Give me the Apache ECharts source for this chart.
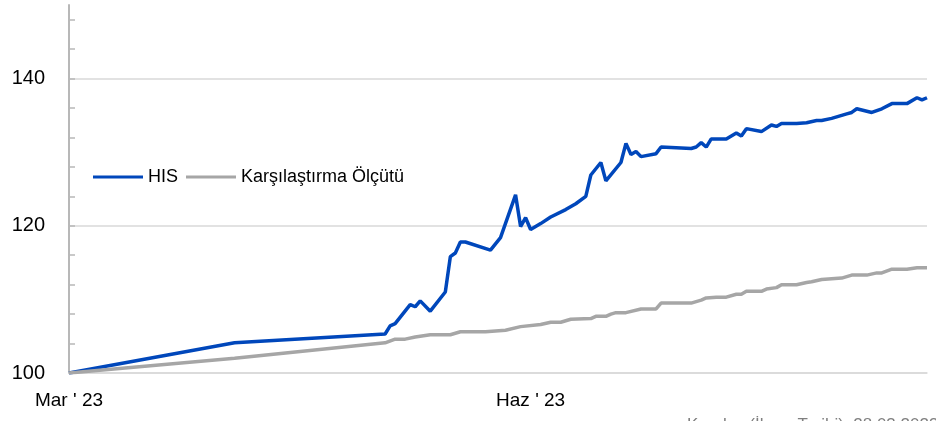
<!DOCTYPE html>
<html>
<head>
<meta charset="utf-8">
<script src="https://cdn.jsdelivr.net/npm/echarts@6/dist/echarts.min.js"></script>
<style>
  html, body { margin: 0; padding: 0; background: #fff; }
  #chart { width: 936px; height: 421px; }
</style>
</head>
<body>
<div id="chart"></div>
<script>
// günler 28.03.2023 (fon başlangıcı) tarihinden itibaren sayılıyor
const hisDays = [0, 33, 63, 64, 65, 68, 69, 70, 72, 75, 76, 77, 78, 79, 84, 86, 89, 90, 91, 92,
  94, 96, 99, 101, 103, 104, 106, 107, 110, 111, 112, 113, 114, 117, 118, 121, 124, 125, 126, 127,
  128, 131, 133, 134, 135, 138, 140, 141, 142, 145, 147, 149, 150, 152, 153, 155, 156, 157, 160, 162,
  164, 167, 169, 170, 171];
const hisValues = [100, 104.1, 105.3, 106.4, 106.7, 109.3, 109.0, 109.8, 108.4, 111.0, 115.8, 116.3, 117.8, 117.8, 116.7, 118.4, 124.2, 119.9, 121.1, 119.5,
  120.3, 121.2, 122.2, 123.0, 124.0, 126.9, 128.6, 126.1, 128.6, 131.2, 129.7, 130.1, 129.4, 129.8, 130.7, 130.6, 130.5, 130.7, 131.3, 130.7,
  131.8, 131.8, 132.6, 132.2, 133.2, 132.8, 133.7, 133.5, 133.9, 133.9, 134.0, 134.3, 134.3, 134.6, 134.8, 135.2, 135.4, 135.9, 135.4, 135.9,
  136.6, 136.6, 137.4, 137.1, 137.4];

const benchDays = [0, 33, 63, 65, 67, 69, 72, 76, 78, 83, 87, 90, 94, 96, 98, 100, 104, 105, 107, 108,
  109, 111, 114, 117, 118, 121, 124, 126, 127, 129, 131, 133, 134, 135, 138, 139, 141, 142, 145, 147,
  148, 150, 154, 155, 156, 159, 161, 162, 164, 167, 169, 171];
const benchValues = [100, 102.0, 104.1, 104.6, 104.6, 104.9, 105.2, 105.2, 105.6, 105.6, 105.8, 106.3, 106.6, 106.9, 106.9, 107.3, 107.4, 107.7, 107.7, 108.0,
  108.2, 108.2, 108.7, 108.7, 109.5, 109.5, 109.5, 109.9, 110.2, 110.3, 110.3, 110.7, 110.7, 111.1, 111.1, 111.4, 111.6, 112.0, 112.0, 112.3,
  112.4, 112.7, 112.9, 113.1, 113.3, 113.3, 113.6, 113.6, 114.1, 114.1, 114.3, 114.3];

const xTickDays = [0, 92];
const xTickLabels = ["Mar ' 23", "Haz ' 23"];
const yTickValues = [100, 104, 108, 112, 116, 120, 124, 128, 132, 136, 140, 144, 148];
const seriesNames = ['HIS', 'Karşılaştırma Ölçütü'];
const noteText = 'Kuruluş (İhraç Tarihi): 28.03.2023';

const blue = '#0047bb';
const gray = '#a6a6a6';

const chart = echarts.init(document.getElementById('chart'));

const option = {
  animation: false,
  textStyle: { fontFamily: 'Liberation Sans' },
  grid: { left: 69, right: 9, top: 5, bottom: 48 },
  legend: {
    data: seriesNames,
    icon: 'rect',
    left: 93,
    top: 168,
    padding: 0,
    itemWidth: 50,
    itemHeight: 3,
    itemGap: 8,
    textStyle: { fontSize: 18, color: '#000' }
  },
  xAxis: {
    type: 'value',
    min: 0,
    max: 171,
    axisLine: { show: true, onZero: false, lineStyle: { color: '#d9d9d9', width: 1.5 } },
    axisTick: { show: false },
    splitLine: { show: false },
    axisLabel: {
      customValues: xTickDays,
      showMinLabel: true,
      showMaxLabel: true,
      hideOverlap: false,
      margin: 18,
      fontSize: 19,
      color: '#000',
      formatter: (value) => {
        const i = xTickDays.indexOf(value);
        return i >= 0 ? xTickLabels[i] : '';
      }
    }
  },
  yAxis: [
    {
      type: 'value',
      min: 100,
      max: 150,
      interval: 20,
      axisLine: { show: true, lineStyle: { color: '#b8b8b8', width: 2 } },
      axisTick: { show: false },
      axisLabel: {
        showMaxLabel: false,
        margin: 24,
        fontSize: 20,
        color: '#000'
      },
      splitLine: {
        show: true,
        showMaxLine: false,
        lineStyle: { color: '#d9d9d9', width: 1.5 }
      }
    },
    {
      // sadece küçük çentikler için
      type: 'value',
      position: 'left',
      min: 100,
      max: 150,
      interval: 20,
      axisLine: { show: false },
      axisLabel: { show: false },
      splitLine: { show: false },
      axisTick: {
        show: true,
        inside: true,
        length: 6,
        customValues: yTickValues,
        lineStyle: { color: '#b8b8b8', width: 1.5 }
      }
    }
  ],
  graphic: [{
    type: 'text',
    left: 687,
    top: 417,
    style: { text: noteText, fontSize: 17, fill: '#7f7f7f', fontFamily: 'Liberation Sans' }
  }],
  series: [
    {
      name: seriesNames[0],
      type: 'line',
      symbol: 'none',
      data: hisDays.map((d, i) => [d, hisValues[i]]),
      lineStyle: { color: blue, width: 3.5 },
      itemStyle: { color: blue }
    },
    {
      name: seriesNames[1],
      type: 'line',
      symbol: 'none',
      data: benchDays.map((d, i) => [d, benchValues[i]]),
      lineStyle: { color: gray, width: 3.5 },
      itemStyle: { color: gray }
    }
  ]
};

chart.setOption(option);
window.onresize = () => {
  chart.resize();
};
</script>
</body>
</html>
